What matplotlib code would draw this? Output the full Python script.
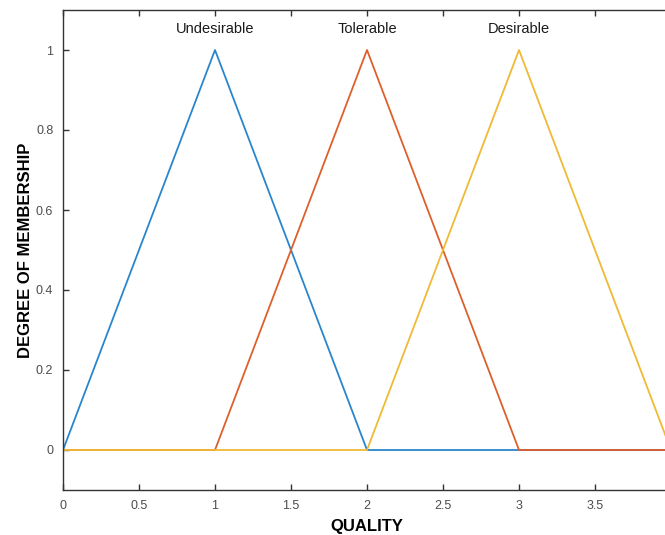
import numpy as np
import matplotlib.pyplot as plt

# Membership functions (triangular), breakpoints
x_pts = [0, 1, 2, 3, 4]
undesirable = [0, 1, 0, 0, 0]
tolerable = [0, 0, 1, 0, 0]
desirable = [0, 0, 0, 1, 0]

labels = ['Undesirable', 'Tolerable', 'Desirable']
peaks = [1, 2, 3]
colors = ['#2a86cc', '#DE5F2C', '#EFBA35']

xticks = [0, 0.5, 1, 1.5, 2, 2.5, 3, 3.5]
xtick_labels = ['0', '0.5', '1', '1.5', '2', '2.5', '3', '3.5']
yticks = [0, 0.2, 0.4, 0.6, 0.8, 1]
ytick_labels = ['0', '0.2', '0.4', '0.6', '0.8', '1']

narrow = ['Liberation Sans Narrow', 'Liberation Sans', 'DejaVu Sans']

fig = plt.figure(figsize=(6.65, 5.35), dpi=100)
ax = fig.add_axes([63 / 665, 45 / 535, 608 / 665, 480 / 535])

for ys, c in zip([undesirable, tolerable, desirable], colors):
    ax.plot(x_pts, ys, color=c, linewidth=1.3)

for lab, p in zip(labels, peaks):
    ax.text(p, 1.035, lab, ha='center', va='bottom', fontsize=10.5,
            family=narrow, color='#1a1a1a')

ax.set_xlim(0, 4)
ax.set_ylim(-0.1, 1.1)
ax.set_xticks(xticks)
ax.set_xticklabels(xtick_labels, family=['Liberation Sans', 'DejaVu Sans'])
ax.set_yticks(yticks)
ax.set_yticklabels(ytick_labels, family=['Liberation Sans', 'DejaVu Sans'])
ax.tick_params(direction='in', top=True, right=True, length=4, width=1,
               labelsize=9, labelcolor='#4d4d4d', color='#333333', pad=7)

for s in ax.spines.values():
    s.set_color('#333333')
    s.set_linewidth(1)

ax.set_xlabel('QUALITY', fontsize=12, fontweight='bold', family=narrow, labelpad=5)
ax.set_ylabel('DEGREE OF MEMBERSHIP', fontsize=12, fontweight='bold', family=narrow, labelpad=2)

fig.savefig('out.png', dpi=100)
